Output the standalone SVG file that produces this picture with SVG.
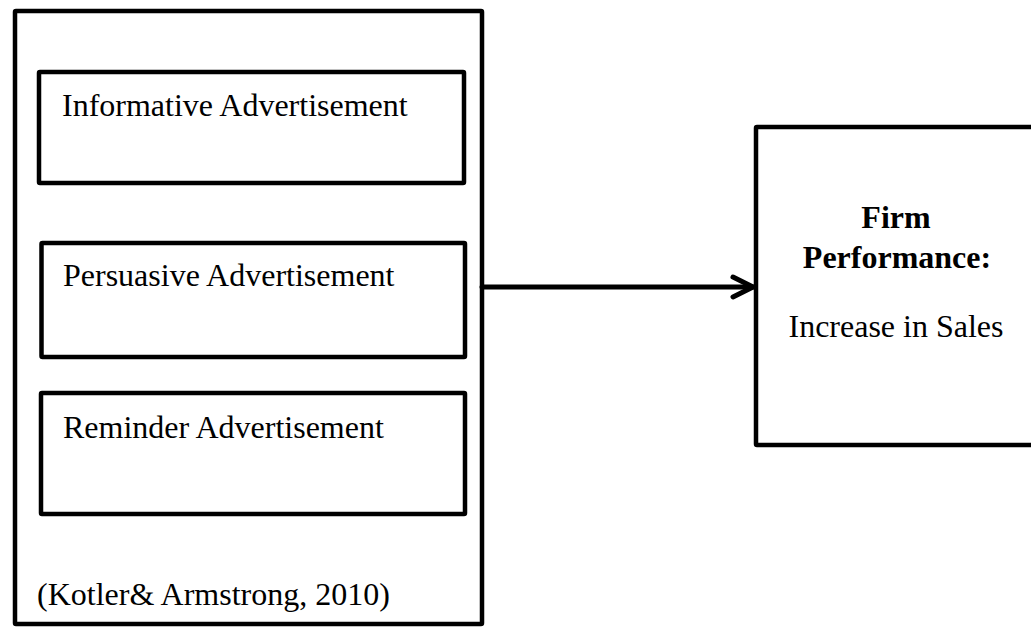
<svg xmlns="http://www.w3.org/2000/svg" width="1031" height="627" viewBox="0 0 1031 627">
  <style>
    .box { fill: #ffffff; stroke: #000000; stroke-width: 4.5; stroke-linejoin: round; }
    .t { font-family: "Liberation Serif", "Times New Roman", serif; font-size: 32px; fill: #000000; }
    .b { font-weight: bold; }
    .conn { fill: none; stroke: #000000; stroke-width: 5; stroke-linecap: round; stroke-linejoin: round; }
  </style>
  <rect x="0" y="0" width="1031" height="627" fill="#ffffff"/>
  <g id="outer">
    <rect class="box" x="15" y="11" width="467" height="613" rx="1"/>
    <text class="t" x="37" y="605">(Kotler&amp; Armstrong, 2010)</text>
  </g>
  <g id="informative">
    <rect class="box" x="39" y="72" width="425" height="111" rx="1"/>
    <text class="t" x="62" y="116">Informative Advertisement</text>
  </g>
  <g id="persuasive">
    <rect class="box" x="41.5" y="243" width="423.5" height="114" rx="1"/>
    <text class="t" x="63" y="286">Persuasive Advertisement</text>
  </g>
  <g id="reminder">
    <rect class="box" x="41" y="393" width="424" height="121" rx="1"/>
    <text class="t" x="63" y="438">Reminder Advertisement</text>
  </g>
  <g id="performance">
    <rect class="box" x="756" y="127" width="300" height="318" rx="1"/>
    <text class="t b" x="896" y="228" text-anchor="middle">Firm</text>
    <text class="t b" x="897" y="268" text-anchor="middle">Performance:</text>
    <text class="t" x="896" y="337" text-anchor="middle">Increase in Sales</text>
  </g>
  <g id="connectors">
    <line class="conn" x1="482" y1="287" x2="753" y2="287"/>
    <polyline class="conn" points="733,277 753,287 733,297"/>
  </g>
</svg>
